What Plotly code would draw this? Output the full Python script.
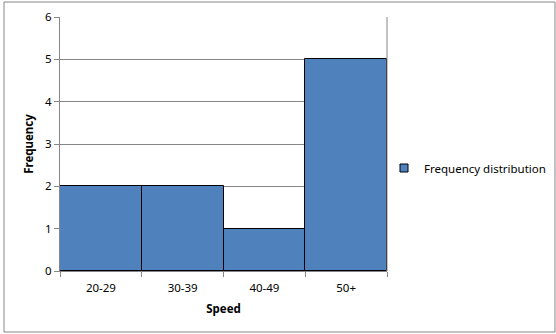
import plotly.graph_objects as go

categories = ["20-29", "30-39", "40-49", "50+"]
frequency = [2, 2, 1, 5]
series_name = "Frequency distribution"

W, H = 556, 334
L, R, T, B = 60, 169, 17, 63
pw, ph = W - L - R, H - T - B

def px_x(p):
    return (p - L) / pw

def px_y(p):
    return (H - B - p) / ph

BAR_COLOR = "#4F81BD"

fig = go.Figure()
fig.add_trace(go.Bar(
    x=categories, y=frequency, name=series_name,
    marker=dict(color=BAR_COLOR, line=dict(color="#000000", width=1)),
    showlegend=False, legendgroup="f",
))
# legend-only entry with a small square key, like the original
fig.add_trace(go.Scatter(
    x=[None], y=[None], mode="markers", name=series_name, legendgroup="f",
    marker=dict(symbol="square", size=8, color=BAR_COLOR,
                line=dict(color="#000000", width=1)),
    showlegend=True, hoverinfo="skip",
))

font = "Noto Sans, Open Sans, sans-serif"
fs = 11.5
fig.update_layout(
    width=W, height=H,
    margin=dict(l=L, r=R, t=T, b=B, pad=0, autoexpand=False),
    paper_bgcolor="white", plot_bgcolor="white",
    bargap=0,
    font=dict(family=font, size=fs, color="#000000"),
    showlegend=True,
    legend=dict(x=px_x(384), y=px_y(168), xanchor="left", yanchor="middle",
                font=dict(size=fs, family=font), bgcolor="rgba(0,0,0,0)",
                itemwidth=30),
    xaxis=dict(
        type="category", tickson="boundaries", ticks="outside", ticklen=5,
        tickcolor="#868686", showline=True, linecolor="#868686", linewidth=1,
        showgrid=False, ticklabelstandoff=6,
        title=dict(text="<b>Speed</b>", font=dict(size=fs), standoff=11),
        tickfont=dict(size=fs),
    ),
    yaxis=dict(
        range=[0, 6], dtick=1, ticks="outside", ticklen=5, tickcolor="#868686",
        showline=True, linecolor="#868686", linewidth=1,
        showgrid=True, gridcolor="#868686", gridwidth=1,
        zeroline=False,
        title=dict(text="<b>Frequency</b>", font=dict(size=fs), standoff=9),
        tickfont=dict(size=fs),
    ),
)

# chart-area border
fig.add_shape(type="rect", xref="paper", yref="paper",
              x0=px_x(4), x1=px_x(555), y0=px_y(332), y1=px_y(2),
              line=dict(color="#868686", width=1), fillcolor="rgba(0,0,0,0)",
              layer="below")
# right plot edge
fig.add_shape(type="line", xref="paper", yref="paper",
              x0=1, x1=1, y0=0, y1=1, line=dict(color="#868686", width=1))

fig.write_html("out.html")
